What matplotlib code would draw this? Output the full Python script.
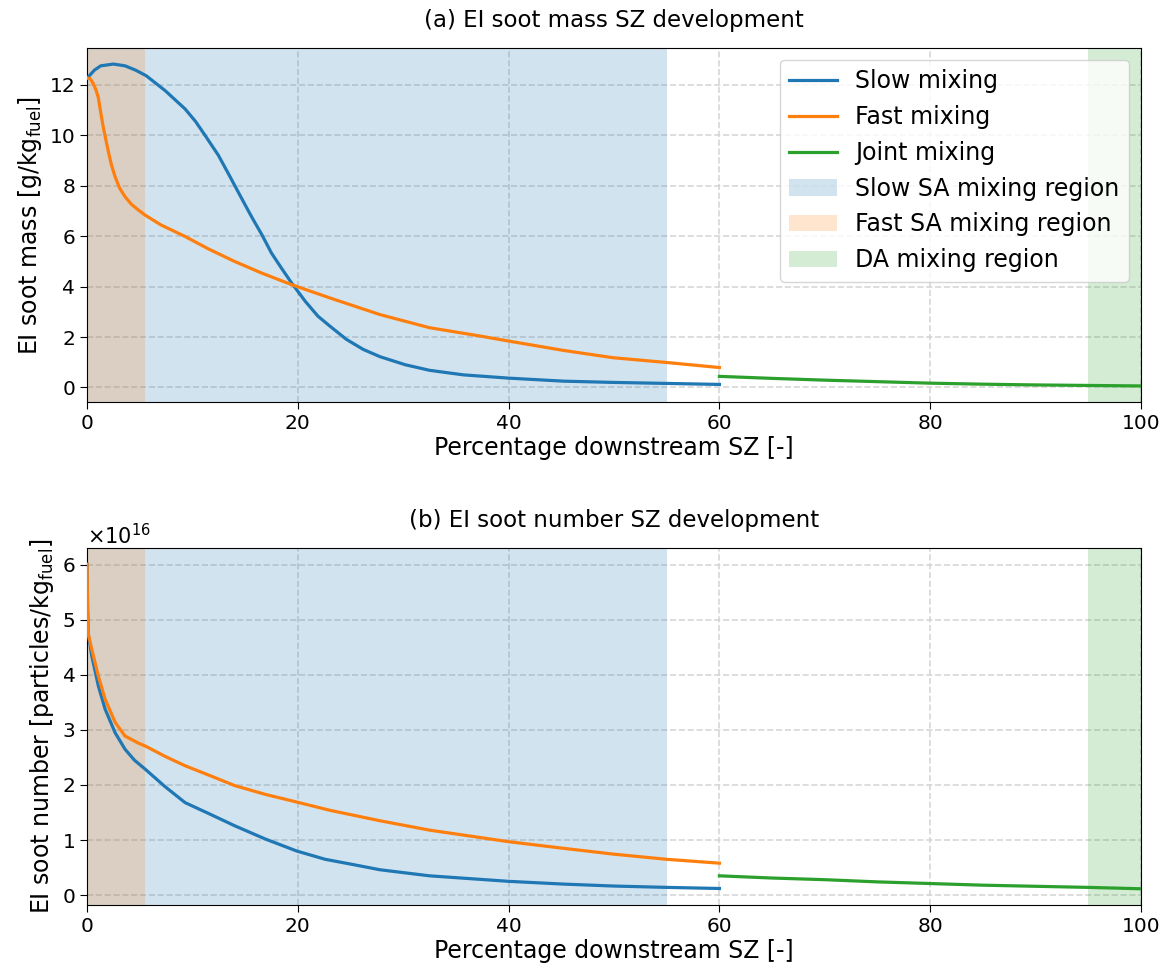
import numpy as np
import matplotlib
matplotlib.use("Agg")
import matplotlib.pyplot as plt

# Panel (a): EI soot mass [g/kg_fuel]
slow_x_a = [0, 0.7, 1.3, 2.5, 3.6, 4.6, 5.6, 7.4, 9.3, 10.3, 11.2, 12.46, 13.4, 14.5, 15.6,
            16.6, 17.5, 18.5, 19.4, 20.7, 21.9, 23.05, 24.6, 26.2, 27.8, 30.2, 32.5, 35.7,
            40, 45.2, 49.9, 55, 60]
slow_y_a = [12.27, 12.59, 12.76, 12.83, 12.76, 12.59, 12.37, 11.78, 11.05, 10.55, 10.0, 9.21,
            8.49, 7.63, 6.78, 6.05, 5.33, 4.7, 4.15, 3.42, 2.83, 2.43, 1.91, 1.51, 1.22,
            0.9, 0.68, 0.5, 0.37, 0.25, 0.2, 0.16, 0.12]
fast_x_a = [0, 0.3, 0.6, 0.85, 1.07, 1.3, 1.55, 1.8, 2.0, 2.3, 2.66, 3.1, 3.6, 4.2, 4.87,
            5.5, 7, 9.3, 11.5, 14.0, 16.5, 19.4, 23.05, 27.8, 32.5, 37.3, 40, 45.2, 49.9,
            55, 60]
fast_y_a = [12.27, 12.25, 12.05, 11.8, 11.5, 10.9, 10.3, 9.8, 9.4, 8.85, 8.36, 7.9, 7.57,
            7.27, 7.04, 6.84, 6.45, 5.99, 5.5, 5.0, 4.55, 4.08, 3.55, 2.89, 2.37, 2.04,
            1.84, 1.47, 1.18, 0.99, 0.79]
joint_x_a = [60, 65, 70, 75, 80, 85, 90, 95, 100]
joint_y_a = [0.44, 0.36, 0.29, 0.23, 0.17, 0.13, 0.1, 0.08, 0.06]

# Panel (b): EI soot number [particles/kg_fuel], in units of 1e16
slow_x_b = [0, 0.05, 0.12, 0.44, 1.07, 1.71, 2.66, 3.6, 4.5, 5.5, 7.4, 9.3, 11.67, 14.0,
            16.9, 19.9, 22.6, 25.1, 27.8, 32.5, 40, 45.2, 49.9, 55, 60]
slow_y_b = [6.01, 5.2, 4.74, 4.35, 3.8, 3.38, 2.95, 2.65, 2.45, 2.29, 1.97, 1.68, 1.47,
            1.26, 1.02, 0.8, 0.65, 0.56, 0.46, 0.35, 0.25, 0.2, 0.165, 0.14, 0.12]
fast_x_b = [0, 0.05, 0.12, 0.44, 1.07, 1.71, 2.66, 3.6, 4.87, 5.5, 7.4, 9.3, 11.67, 14.0,
            16.9, 19.9, 23.05, 27.8, 32.5, 40, 45.2, 49.9, 55, 60]
fast_y_b = [6.01, 5.2, 4.74, 4.47, 3.98, 3.56, 3.14, 2.89, 2.76, 2.71, 2.52, 2.35, 2.17,
            1.99, 1.83, 1.69, 1.54, 1.35, 1.18, 0.97, 0.85, 0.745, 0.65, 0.58]
joint_x_b = [60, 65, 70, 75, 80, 85, 90, 95, 100]
joint_y_b = [0.35, 0.31, 0.28, 0.24, 0.21, 0.18, 0.16, 0.14, 0.115]

# Mixing regions (percentage downstream)
slow_region = (0, 55)
fast_region = (0, 5.5)
da_region = (95, 100)

plt.rcParams['font.family'] = ['DejaVu Sans']

fig = plt.figure(figsize=(11.67, 9.77), dpi=100)
ax1 = fig.add_axes([0.0746, 0.5885, 0.9031, 0.3624])
ax2 = fig.add_axes([0.0746, 0.0737, 0.9031, 0.3654])

panels = [
    (ax1, 1.0, slow_x_a, slow_y_a, fast_x_a, fast_y_a, joint_x_a, joint_y_a,
     "(a) EI soot mass SZ development", r"EI soot mass [g/kg$_\mathrm{fuel}$]"),
    (ax2, 1e16, slow_x_b, slow_y_b, fast_x_b, fast_y_b, joint_x_b, joint_y_b,
     "(b) EI soot number SZ development", r"EI soot number [particles/kg$_\mathrm{fuel}$]"),
]

for ax, scale, sx, sy, fx, fy, jx, jy, title, ylabel in panels:
    ax.plot(sx, np.array(sy) * scale, color='tab:blue', lw=2.3, label='Slow mixing', zorder=3)
    ax.plot(fx, np.array(fy) * scale, color='tab:orange', lw=2.3, label='Fast mixing', zorder=3)
    ax.plot(jx, np.array(jy) * scale, color='tab:green', lw=2.3, label='Joint mixing', zorder=3)
    ax.axvspan(*slow_region, color='tab:blue', alpha=0.2, lw=0, label='Slow SA mixing region')
    ax.axvspan(*fast_region, color='tab:orange', alpha=0.2, lw=0, label='Fast SA mixing region')
    ax.axvspan(*da_region, color='tab:green', alpha=0.2, lw=0, label='DA mixing region')
    ax.set_xlim(0, 100)
    ax.set_title(title, fontsize=16.5, pad=15)
    ax.set_xlabel("Percentage downstream SZ [-]", fontsize=17, labelpad=2)
    ax.set_ylabel(ylabel, fontsize=17)
    ax.grid(True, linestyle='--', color='lightgray', alpha=0.9, lw=1.2)
    ax.tick_params(labelsize=14.5, length=5)
    ax.set_axisbelow(True)

ax1.legend(loc='upper right', fontsize=17, framealpha=0.8)
ax2.ticklabel_format(axis='y', style='sci', scilimits=(0, 0), useMathText=True)
ax2.yaxis.get_offset_text().set_fontsize(15)

fig.savefig("out.png", dpi=100)
